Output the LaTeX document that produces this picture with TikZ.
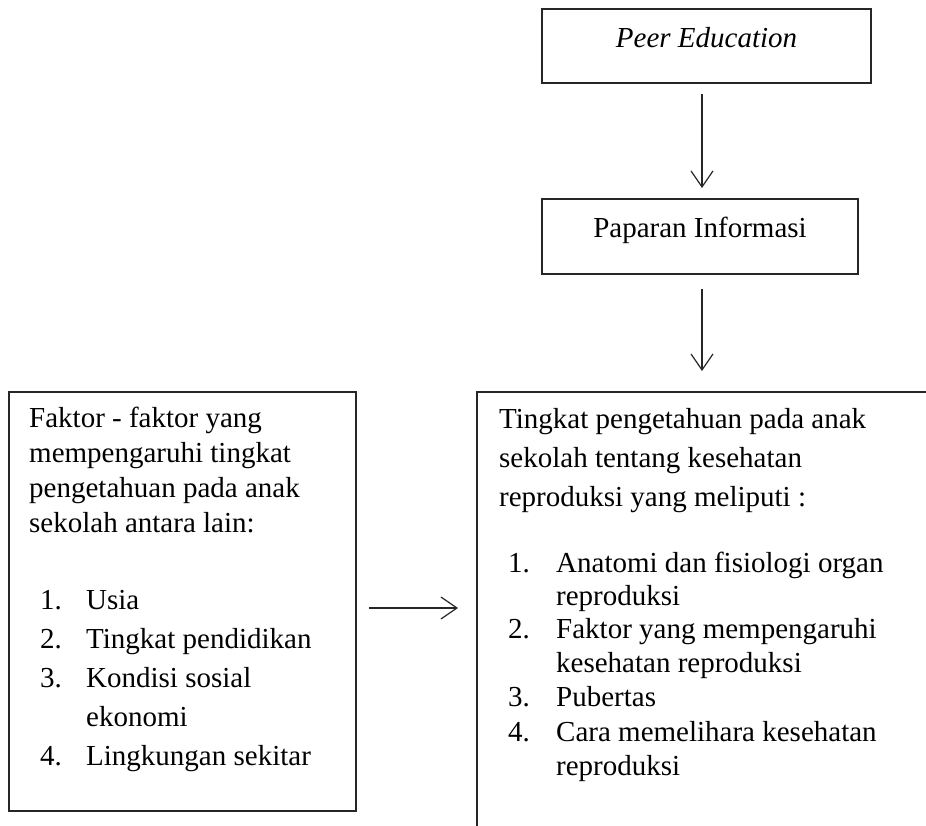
\documentclass[tikz,border=0pt]{standalone}
\usepackage{fontspec}
\setmainfont{Liberation Serif}
\usetikzlibrary{arrows.meta}
\begin{document}
\begin{tikzpicture}[x=1pt,y=-1pt,
  box/.style={draw=black!85,line width=1.2pt,inner sep=0pt,outer sep=0pt,anchor=north west},
  txt/.style={anchor=base west,inner sep=0pt,font=\fontsize{29}{33}\selectfont},
  ctxt/.style={anchor=base,inner sep=0pt,font=\fontsize{29}{33}\selectfont},
  arr/.style={draw=black!85,line width=1.2pt,-{Straight Barb[length=16pt,width=22pt,line width=1.2pt]}}]
\useasboundingbox (0,0) rectangle (926,826);
\clip (0,0) rectangle (926,826);
% top boxes
\node[box,minimum width=329pt,minimum height=74pt] (b1) at (542,9) {};
\node[ctxt] (t1) at (706.5,48) {\itshape Peer Education};
\node[box,minimum width=316pt,minimum height=75pt] (b2) at (542,199) {};
\node[ctxt] (t2) at (700,238) {Paparan Informasi};
% arrows
\coordinate (a1s) at (702,94);
\coordinate (a1e) at (702,188);
\coordinate (a2s) at (702,289);
\coordinate (a2e) at (702,371);
\draw[arr] (a1s) -- (a1e);
\draw[arr] (a2s) -- (a2e);
% left box
\node[box,minimum width=347pt,minimum height=419pt] (b3) at (9,392) {};
\node[txt] (l1) at (29,427) {Faktor - faktor yang};
\node[txt] (l2) at (29,462) {mempengaruhi tingkat};
\node[txt] (l3) at (29,497) {pengetahuan pada anak};
\node[txt] (l4) at (29,532) {sekolah antara lain:};
\node[txt] (ln1) at (40,609) {1.};
\node[txt] (li1) at (86,609) {Usia};
\node[txt] (ln2) at (40,648) {2.};
\node[txt] (li2) at (86,648) {Tingkat pendidikan};
\node[txt] (ln3) at (40,687) {3.};
\node[txt] (li3) at (86,687) {Kondisi sosial};
\node[txt] (li3b) at (86,726) {ekonomi};
\node[txt] (ln4) at (40,765) {4.};
\node[txt] (li4) at (86,765) {Lingkungan sekitar};
% horizontal arrow
\coordinate (h1) at (369,608);
\coordinate (h2) at (458,608);
\draw[arr] (h1) -- (h2);
% right box (open at right and bottom, cut by the page)
\node[box,minimum width=480pt,minimum height=460pt] (b4) at (477,392) {};
\node[txt] (r1) at (499,428) {Tingkat pengetahuan pada anak};
\node[txt] (r2) at (499,467) {sekolah tentang kesehatan};
\node[txt] (r3) at (499,506) {reproduksi yang meliputi :};
\node[txt] (rn1) at (508,572) {1.};
\node[txt] (ri1) at (556,572) {Anatomi dan fisiologi organ};
\node[txt] (ri1b) at (556,605) {reproduksi};
\node[txt] (rn2) at (508,638) {2.};
\node[txt] (ri2) at (556,638) {Faktor yang mempengaruhi};
\node[txt] (ri2b) at (556,672) {kesehatan reproduksi};
\node[txt] (rn3) at (508,706) {3.};
\node[txt] (ri3) at (556,706) {Pubertas};
\node[txt] (rn4) at (508,741) {4.};
\node[txt] (ri4) at (556,741) {Cara memelihara kesehatan};
\node[txt] (ri4b) at (556,775) {reproduksi};
\end{tikzpicture}
\end{document}
